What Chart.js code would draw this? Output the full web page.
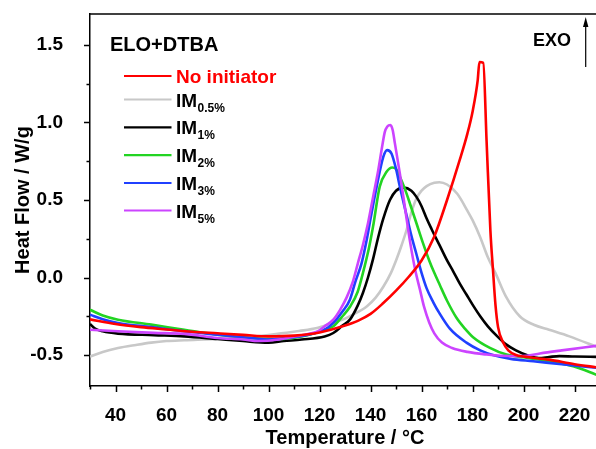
<!DOCTYPE html>
<html>
<head>
<meta charset="utf-8">
<script src="https://cdn.jsdelivr.net/npm/chart.js@4.4.0/dist/chart.umd.min.js"></script>
<style>
  html, body { margin: 0; padding: 0; background: #fff; }
  #chart { display: block; }
</style>
</head>
<body>
<canvas id="chart" width="596" height="449"></canvas>
<script>
// ---- Data ----
const tempRed = [30, 40, 50, 60, 70, 80, 90, 100, 110, 120, 130, 135, 140, 145, 150, 155, 160, 165, 170, 175, 178, 180, 182, 182.7, 184.2, 185.5, 187, 188, 189, 190, 192, 194, 197, 200, 210, 220, 229];
const hfRed = [-0.27, -0.30, -0.32, -0.335, -0.35, -0.36, -0.37, -0.38, -0.375, -0.355, -0.31, -0.28, -0.235, -0.165, -0.085, 0.005, 0.11, 0.265, 0.50, 0.76, 0.93, 1.07, 1.27, 1.39, 1.385, 0.88, 0.30, 0.05, -0.18, -0.32, -0.42, -0.47, -0.50, -0.51, -0.53, -0.56, -0.58];

const tempGray = [30, 35, 41, 48, 54, 60, 67, 80, 93, 100, 106, 112, 119, 125, 130, 133, 138.5, 142, 145, 148, 150, 152, 154, 156, 158, 160, 162, 165, 167, 170, 174, 178, 180, 183, 186, 189, 193, 198.5, 204, 210, 218, 229];
const hfGray = [-0.51, -0.48, -0.455, -0.435, -0.42, -0.41, -0.405, -0.397, -0.384, -0.372, -0.358, -0.345, -0.326, -0.293, -0.265, -0.24, -0.187, -0.13, -0.06, 0.03, 0.11, 0.2, 0.30, 0.42, 0.51, 0.56, 0.59, 0.612, 0.615, 0.60, 0.54, 0.43, 0.37, 0.26, 0.13, 0.028, -0.12, -0.25, -0.305, -0.337, -0.38, -0.45];

const tempBlack = [30, 32, 35, 41, 55, 67, 80, 90, 100, 106, 113, 122, 125.4, 129, 132, 135, 137, 139, 141, 143, 145, 147.6, 150, 153, 156, 158, 160, 162, 164, 167, 170, 172.4, 175, 177.6, 180, 183, 186, 190, 193, 197, 202, 206, 210, 214, 220, 229];
const hfBlack = [-0.30, -0.33, -0.347, -0.362, -0.372, -0.38, -0.397, -0.41, -0.42, -0.41, -0.40, -0.38, -0.358, -0.31, -0.27, -0.18, -0.10, 0.0, 0.12, 0.26, 0.38, 0.50, 0.56, 0.58, 0.56, 0.52, 0.46, 0.38, 0.31, 0.21, 0.11, 0.04, -0.04, -0.11, -0.175, -0.25, -0.315, -0.385, -0.43, -0.47, -0.505, -0.52, -0.513, -0.507, -0.51, -0.512];

const tempGreen = [30, 35, 41, 54, 67, 80, 93, 104, 112, 118, 122, 125.4, 129, 132, 135, 137, 139.5, 141, 143.6, 146.3, 148.5, 150, 151.5, 153.5, 155.4, 158, 160.6, 163, 165, 167.2, 170, 173.7, 177, 180.2, 186.8, 193.3, 200, 206.4, 213, 219.5, 229];
const hfGreen = [-0.208, -0.245, -0.272, -0.304, -0.337, -0.369, -0.39, -0.397, -0.384, -0.36, -0.337, -0.315, -0.25, -0.187, -0.09, 0.028, 0.2, 0.33, 0.586, 0.682, 0.71, 0.70, 0.65, 0.57, 0.479, 0.35, 0.22, 0.11, 0.03, -0.05, -0.15, -0.26, -0.33, -0.385, -0.454, -0.497, -0.515, -0.53, -0.55, -0.573, -0.63];

const tempBlue = [30, 35, 41, 54, 67, 80, 93, 100, 112, 118, 122, 125.4, 129, 131.9, 134, 136.5, 138.5, 140, 142.4, 145, 146.5, 148.2, 150, 151.5, 154, 156, 158, 160, 162, 164.6, 167, 171.1, 177.6, 183, 188, 195, 203.8, 215, 229];
const hfBlue = [-0.24, -0.27, -0.293, -0.32, -0.347, -0.369, -0.39, -0.40, -0.38, -0.36, -0.337, -0.293, -0.22, -0.143, -0.03, 0.093, 0.243, 0.38, 0.586, 0.778, 0.822, 0.80, 0.70, 0.586, 0.41, 0.27, 0.15, 0.03, -0.07, -0.16, -0.23, -0.33, -0.42, -0.47, -0.50, -0.525, -0.54, -0.56, -0.583];

const tempPurple = [30, 41, 55, 67, 80, 90, 96, 104, 112, 119.4, 122, 125.4, 128, 130.6, 133, 135, 137, 139, 141, 143, 144.5, 145.6, 146.5, 147.8, 148.7, 149.5, 151.5, 153.5, 155.5, 157.5, 159.4, 161, 163, 165, 168, 172, 178, 185.5, 191, 197.3, 201.2, 206.4, 215, 229];
const hfPurple = [-0.337, -0.347, -0.357, -0.364, -0.39, -0.40, -0.41, -0.40, -0.375, -0.347, -0.315, -0.272, -0.21, -0.13, -0.03, 0.09, 0.21, 0.35, 0.52, 0.69, 0.84, 0.94, 0.972, 0.984, 0.95, 0.87, 0.67, 0.45, 0.23, 0.05, -0.08, -0.19, -0.29, -0.36, -0.42, -0.455, -0.48, -0.497, -0.505, -0.508, -0.505, -0.49, -0.47, -0.44];

const xMajorTicks = [40, 60, 80, 100, 120, 140, 160, 180, 200, 220];
const xMinorTicks = [30, 50, 70, 90, 110, 130, 150, 170, 190, 210];
const yMajorTicks = [-0.5, 0.0, 0.5, 1.0, 1.5];
const yMinorTicks = [-0.25, 0.25, 0.75, 1.25];

const legendNames = ['No initiator', 'IM', 'IM', 'IM', 'IM', 'IM'];
const legendSubs = ['', '0.5%', '1%', '2%', '3%', '5%'];
const seriesColors = ['#ff0000', '#c8c8c8', '#000000', '#22d422', '#2040ff', '#cc44ff'];

const FONT = '"Liberation Sans", Arial, sans-serif';

function pts(xs, ys) { return xs.map((x, i) => ({ x, y: ys[i] })); }

const seriesData = [
  pts(tempRed, hfRed),
  pts(tempGray, hfGray),
  pts(tempBlack, hfBlack),
  pts(tempGreen, hfGreen),
  pts(tempBlue, hfBlue),
  pts(tempPurple, hfPurple)
];

// ---- Extras: ticks, frame, legend, titles ----
const decorPlugin = {
  id: 'decor',
  afterDraw(chart) {
    const ctx = chart.ctx;
    const xs = chart.scales.x, ys = chart.scales.y;
    const area = chart.chartArea;
    ctx.save();
    ctx.strokeStyle = '#000';
    ctx.lineWidth = 1.5;

    // top frame
    ctx.beginPath();
    ctx.moveTo(area.left, area.top);
    ctx.lineTo(area.right, area.top);
    ctx.stroke();

    // ticks
    ctx.beginPath();
    xMajorTicks.forEach(v => { const p = Math.round(xs.getPixelForValue(v)) + 0.5; ctx.moveTo(p, area.bottom); ctx.lineTo(p, area.bottom + 6); });
    xMinorTicks.forEach(v => { const p = Math.round(xs.getPixelForValue(v)) + 0.5; ctx.moveTo(p, area.bottom); ctx.lineTo(p, area.bottom + 3.5); });
    yMajorTicks.forEach(v => { const p = Math.round(ys.getPixelForValue(v)) + 0.5; ctx.moveTo(area.left, p); ctx.lineTo(area.left - 6, p); });
    yMinorTicks.forEach(v => { const p = Math.round(ys.getPixelForValue(v)) + 0.5; ctx.moveTo(area.left, p); ctx.lineTo(area.left - 3.5, p); });
    ctx.stroke();

    // axis titles
    ctx.fillStyle = '#000';
    ctx.font = 'bold 20px ' + FONT;
    ctx.textAlign = 'center';
    ctx.textBaseline = 'middle';
    ctx.fillText('Temperature / °C', 345, 438);
    ctx.save();
    ctx.translate(23, 200);
    ctx.rotate(-Math.PI / 2);
    ctx.fillText('Heat Flow / W/g', 0, 0);
    ctx.restore();

    // legend block
    ctx.textAlign = 'left';
    ctx.textBaseline = 'alphabetic';
    ctx.font = 'bold 20px ' + FONT;
    ctx.fillText('ELO+DTBA', 110, 51);
    const rowY = [76, 99.5, 127.3, 155.2, 183, 210.5];
    legendNames.forEach((name, i) => {
      ctx.strokeStyle = seriesColors[i];
      ctx.lineWidth = 2.2;
      ctx.beginPath();
      ctx.moveTo(124, rowY[i]);
      ctx.lineTo(171.5, rowY[i]);
      ctx.stroke();
      ctx.fillStyle = i === 0 ? '#ff0000' : '#000';
      ctx.font = 'bold 19px ' + FONT;
      ctx.fillText(name, 176, rowY[i] + 7);
      if (legendSubs[i]) {
        const w = ctx.measureText(name).width;
        ctx.font = 'bold 12px ' + FONT;
        ctx.fillText(legendSubs[i], 176 + w + 0.5, rowY[i] + 12);
      }
    });

    // EXO marker
    ctx.fillStyle = '#000';
    ctx.font = 'bold 18px ' + FONT;
    ctx.fillText('EXO', 533, 46);
    ctx.strokeStyle = '#000';
    ctx.lineWidth = 1.2;
    ctx.beginPath();
    ctx.moveTo(585.7, 67);
    ctx.lineTo(585.7, 24);
    ctx.stroke();
    ctx.beginPath();
    ctx.moveTo(585.7, 17);
    ctx.lineTo(583, 27);
    ctx.lineTo(588.4, 27);
    ctx.closePath();
    ctx.fill();

    ctx.restore();
  }
};

new Chart(document.getElementById('chart'), {
  type: 'scatter',
  data: {
    datasets: seriesData.map((d, i) => ({
      data: d,
      showLine: true,
      borderColor: seriesColors[i],
      backgroundColor: seriesColors[i],
      borderWidth: 2.6,
      pointRadius: 0,
      cubicInterpolationMode: 'monotone',
      order: [1, 6, 5, 4, 3, 2][i]
    }))
  },
  options: {
    responsive: false,
    animation: false,
    devicePixelRatio: 1,
    layout: { padding: { top: 14, right: 0, left: 0, bottom: 0 } },
    plugins: { legend: { display: false }, tooltip: { enabled: false } },
    scales: {
      x: {
        type: 'linear',
        min: 30,
        max: 228.4,
        afterFit: s => { s.height = 63; s.paddingLeft = 0; s.paddingRight = 0; },
        afterBuildTicks: s => { s.ticks = xMajorTicks.map(v => ({ value: v })); },
        grid: { display: false },
        border: { display: true, color: '#000', width: 1.5 },
        ticks: { color: '#000', padding: 10, font: { family: FONT, size: 19, weight: 'bold' }, maxRotation: 0 }
      },
      y: {
        min: -0.7,
        max: 1.7,
        afterFit: s => { s.width = 90; s.paddingTop = 0; s.paddingBottom = 0; },
        afterBuildTicks: s => { s.ticks = yMajorTicks.map(v => ({ value: v })); },
        grid: { display: false },
        border: { display: true, color: '#000', width: 1.5 },
        ticks: { color: '#000', padding: 19, font: { family: FONT, size: 19, weight: 'bold' }, callback: v => v.toFixed(1) }
      }
    }
  },
  plugins: [decorPlugin]
});
</script>
</body>
</html>
